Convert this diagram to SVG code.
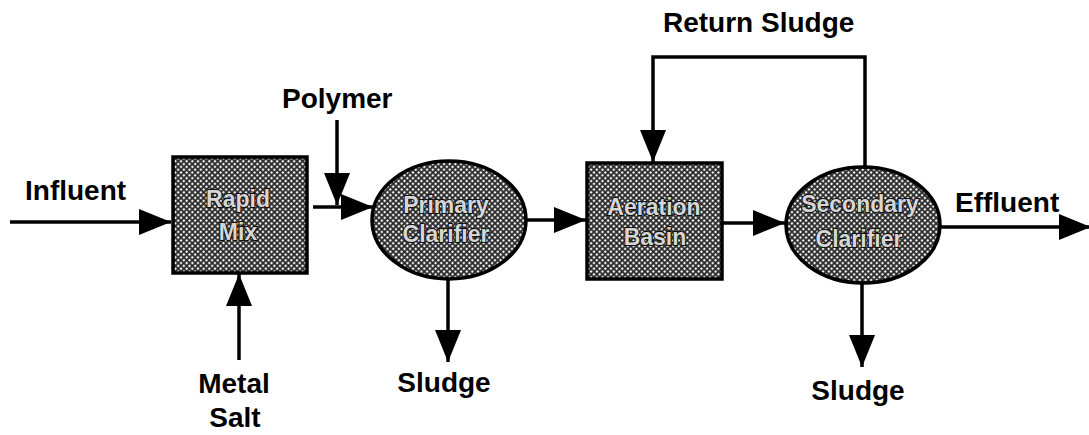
<svg xmlns="http://www.w3.org/2000/svg" width="1089" height="435" viewBox="0 0 1089 435">
<style>
.lbl{font-family:"Liberation Sans",Arial,sans-serif;font-weight:bold;font-size:28px;fill:#000}
.in{font-family:"Liberation Sans",Arial,sans-serif;font-weight:bold;font-size:23px;fill:#d6d6d6;stroke:#111;stroke-width:2;paint-order:stroke;text-anchor:middle}
.node{fill:url(#ht);stroke:#000;stroke-width:3.5}
.con{fill:none;stroke:#000;stroke-width:3.5}
</style>
<defs>
<pattern id="ht" width="4" height="4" patternUnits="userSpaceOnUse" patternTransform="rotate(45)">
<rect width="4" height="4" fill="#2a2a2a"/>
<circle cx="2" cy="2" r="1.25" fill="#f2f2f2"/>
</pattern>
<marker id="ah" viewBox="0 0 32 26" refX="32" refY="13" markerWidth="32" markerHeight="26" markerUnits="userSpaceOnUse" orient="auto">
<path d="M0,0 L32,13 L0,26 Z" fill="#000"/>
</marker>
</defs>
<g id="connectors">
<line class="con" x1="10" y1="222" x2="171" y2="222" marker-end="url(#ah)"/>
<line class="con" x1="239" y1="360" x2="239" y2="274" marker-end="url(#ah)"/>
<line class="con" x1="337" y1="120" x2="337" y2="205" marker-end="url(#ah)"/>
<line class="con" x1="313" y1="207" x2="373" y2="207" marker-end="url(#ah)"/>
<line class="con" x1="526" y1="220" x2="586" y2="220" marker-end="url(#ah)"/>
<line class="con" x1="722" y1="223" x2="785" y2="223" marker-end="url(#ah)"/>
<line class="con" x1="940" y1="227" x2="1091" y2="227" marker-end="url(#ah)"/>
<line class="con" x1="448" y1="279" x2="448" y2="362" marker-end="url(#ah)"/>
<line class="con" x1="862" y1="283" x2="862" y2="367" marker-end="url(#ah)"/>
<path class="con" d="M865,166 V57 H653 V162" marker-end="url(#ah)"/>
</g>
<g id="rapid-mix">
<rect class="node" x="173" y="157" width="134" height="116"/>
<text class="in" x="238" y="207">Rapid</text>
<text class="in" x="238" y="240">Mix</text>
</g>
<g id="primary-clarifier">
<ellipse class="node" cx="449" cy="220" rx="77" ry="59"/>
<text class="in" x="446" y="213">Primary</text>
<text class="in" x="446" y="242">Clarifier</text>
</g>
<g id="aeration-basin">
<rect class="node" x="587" y="163" width="135" height="116"/>
<text class="in" x="654" y="215">Aeration</text>
<text class="in" x="655" y="245">Basin</text>
</g>
<g id="secondary-clarifier">
<ellipse class="node" cx="863" cy="225" rx="77" ry="58"/>
<text class="in" x="860" y="212">Secondary</text>
<text class="in" x="859" y="247">Clarifier</text>
</g>
<g id="labels">
<text class="lbl" x="25" y="200">Influent</text>
<text class="lbl" x="282" y="108">Polymer</text>
<text class="lbl" x="234" y="393" text-anchor="middle">Metal</text>
<text class="lbl" x="235" y="427" text-anchor="middle">Salt</text>
<text class="lbl" x="444" y="392" text-anchor="middle">Sludge</text>
<text class="lbl" x="858" y="400" text-anchor="middle">Sludge</text>
<text class="lbl" x="663" y="32">Return Sludge</text>
<text class="lbl" x="955" y="212">Effluent</text>
</g>
</svg>
